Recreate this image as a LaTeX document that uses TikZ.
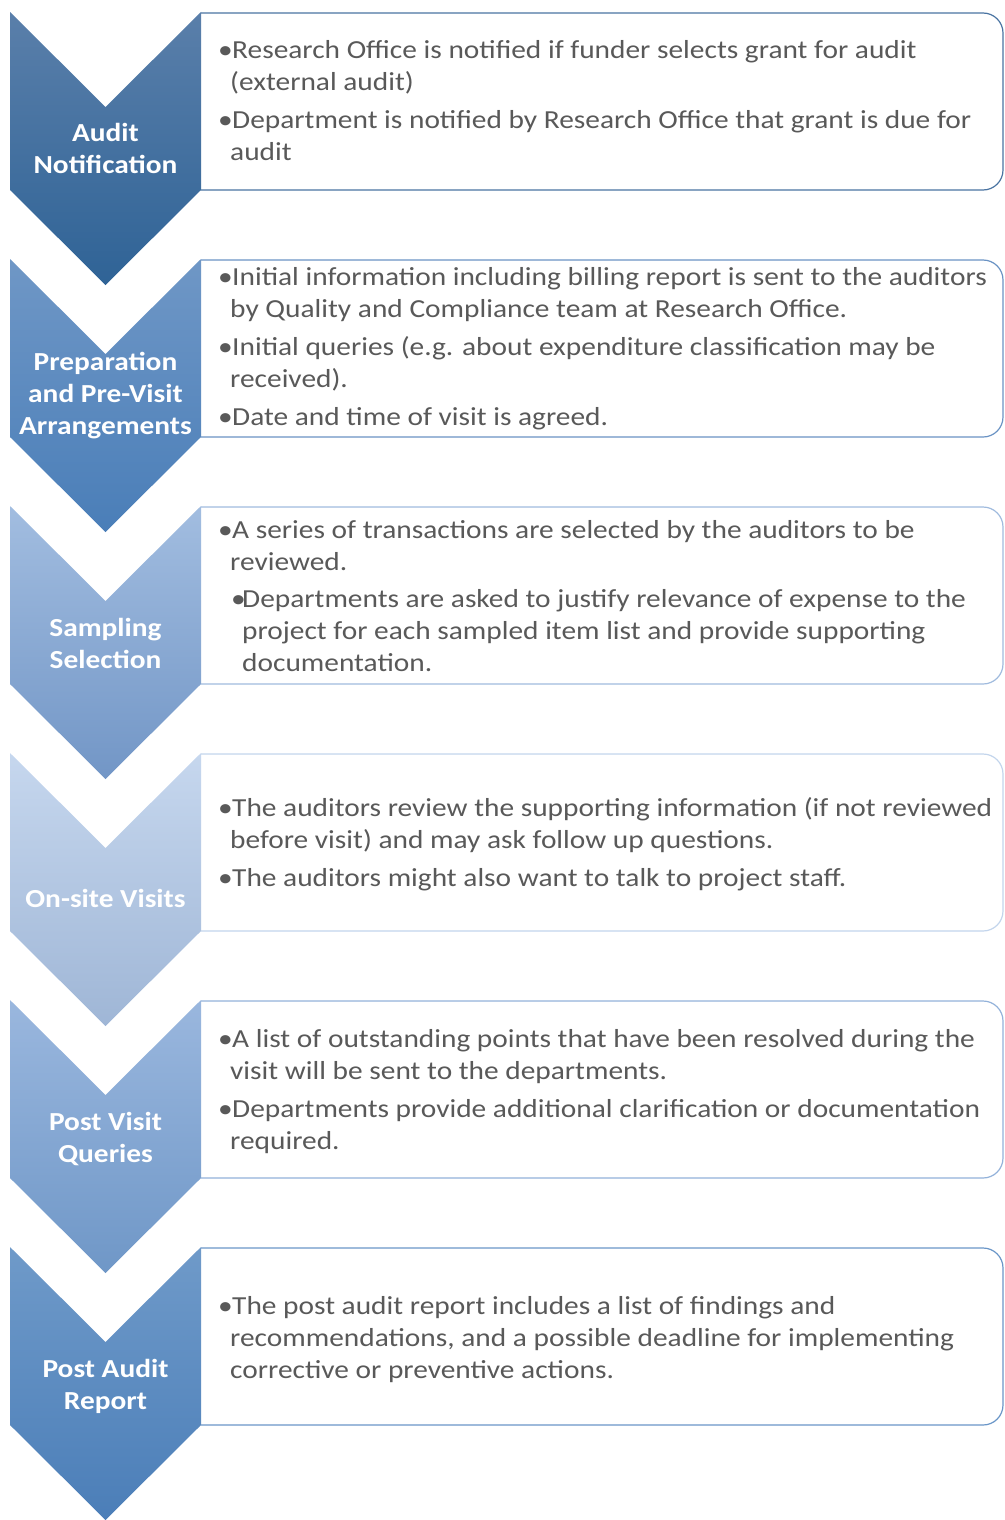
\documentclass[tikz,border=0pt]{standalone}
\usepackage{fontspec}
\setmainfont{Carlito}[FakeStretch=1.13]
\definecolor{txtgray}{HTML}{595959}
\definecolor{cAt}{HTML}{5A7FAA}\definecolor{cAb}{HTML}{2F6396}\definecolor{cAl}{HTML}{4A74A2}
\definecolor{cBt}{HTML}{6F97C6}\definecolor{cBb}{HTML}{4A7EB8}\definecolor{cBl}{HTML}{6A93C4}
\definecolor{cCt}{HTML}{A2BDE0}\definecolor{cCb}{HTML}{7296C6}\definecolor{cCl}{HTML}{A0BBDE}
\definecolor{cDt}{HTML}{C6D7EE}\definecolor{cDb}{HTML}{9FB6D6}\definecolor{cDl}{HTML}{C3D5EC}
\definecolor{cEt}{HTML}{9AB7DE}\definecolor{cEb}{HTML}{6F97C7}\definecolor{cEl}{HTML}{93B2DA}
\definecolor{cFt}{HTML}{6F9AC9}\definecolor{cFb}{HTML}{4B7EB8}\definecolor{cFl}{HTML}{6A96C8}
\newcommand\bul{\makebox[14pt][l]{•}}
\newcommand\subbul{\hspace*{13pt}\makebox[11pt][l]{•}}
\newcommand\ind{\hspace*{12pt}}
\newcommand\auditchev[4]{%
  \draw[draw=#4, line width=1.2pt, fill=white, rounded corners=20pt]
    (201,#1+1) -- (1003,#1+1) -- (1003,#1+178) -- (201,#1+178);
  \shade[top color=#2, bottom color=#3]
    (10,#1) -- (105.5,#1+95) -- (201,#1) -- (201,#1+178) -- (105.5,#1+273) -- (10,#1+178) -- cycle;
}
\begin{document}
\begin{tikzpicture}[x=1pt,y=-1pt,
  boxtext/.style={anchor=west, align=left, text=txtgray, font=\fontsize{26}{32}\selectfont, inner sep=0pt},
  chevlabel/.style={align=center, text=white, font=\bfseries\fontsize{26}{32}\selectfont, inner sep=0pt}]
\useasboundingbox (0,0) rectangle (1004,1520);

\auditchev{12}{cAt}{cAb}{cAl}
\auditchev{259}{cBt}{cBb}{cBl}
\auditchev{506}{cCt}{cCb}{cCl}
\auditchev{753}{cDt}{cDb}{cDl}
\auditchev{1000}{cEt}{cEb}{cEl}
\auditchev{1247}{cFt}{cFb}{cFl}

\node[chevlabel] (l1) at (105.5,148) {Audit\\Notification};
\node[chevlabel] (l2) at (105.5,396) {Preparation\\and Pre-Visit\\Arrangements};
\node[chevlabel] (l3) at (105.5,643.5) {Sampling\\Selection};
\node[chevlabel] (l4) at (105.5,898) {On-site Visits};
\node[chevlabel] (l5) at (105.5,1139) {Post Visit\\Queries};
\node[chevlabel] (l6) at (105.5,1386) {Post Audit\\Report};

\node[boxtext] (t1) at (218,101) {\bul Research Office is notified if funder selects grant for audit\\
\ind(external audit)\\[6pt]
\bul Department is notified by Research Office that grant is due for\\
\ind audit};

\node[boxtext] (t2) at (218,349) {\bul Initial information including billing report is sent to the auditors\\
\ind by Quality and Compliance team at Research Office.\\[6pt]
\bul Initial queries (e.g. about expenditure classification may be\\
\ind received).\\[6pt]
\bul Date and time of visit is agreed.};

\node[boxtext] (t3) at (218,596.5) {\bul A series of transactions are selected by the auditors to be\\
\ind reviewed.\\[5pt]
\subbul Departments are asked to justify relevance of expense to the\\
\ind\ind project for each sampled item list and provide supporting\\
\ind\ind documentation.};

\node[boxtext] (t4) at (218,844) {\bul The auditors review the supporting information (if not reviewed\\
\ind before visit) and may ask follow up questions.\\[6pt]
\bul The auditors might also want to talk to project staff.};

\node[boxtext] (t5) at (218,1092) {\bul A list of outstanding points that have been resolved during the\\
\ind visit will be sent to the departments.\\[6pt]
\bul Departments provide additional clarification or documentation\\
\ind required.};

\node[boxtext] (t6) at (218,1339.5) {\bul The post audit report includes a list of findings and\\
\ind recommendations, and a possible deadline for implementing\\
\ind corrective or preventive actions.};
\end{tikzpicture}
\end{document}
